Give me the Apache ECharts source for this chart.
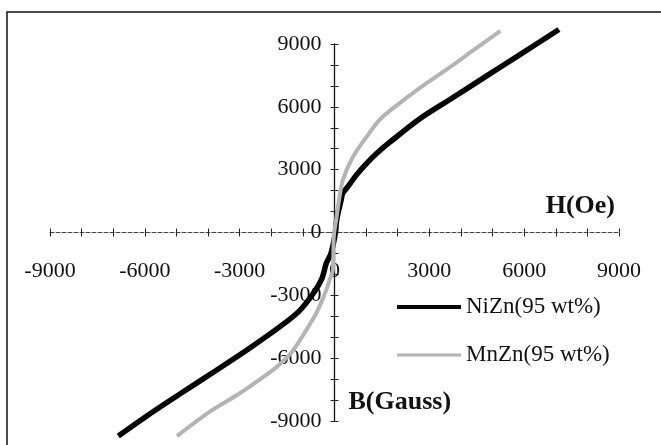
<!DOCTYPE html>
<html>
<head>
<meta charset="utf-8">
<script src="https://cdn.jsdelivr.net/npm/echarts@6/dist/echarts.min.js"></script>
<style>
html,body{margin:0;padding:0;background:#fff;}
#main{width:661px;height:445px;}
</style>
</head>
<body>
<div id="main"></div>
<script>
// B-H curves
var niznH = [-6840, -5880, -4820, -3760, -2700, -1640, -1110, -690, -400, -260, -110, 30, 70, 210, 264, 423, 690, 1010, 1330, 1750, 2700, 3650, 4900, 5780, 7100];
var niznB = [-9720, -8700, -7640, -6600, -5540, -4400, -3740, -2950, -2200, -1470, -990, 0, 610, 1560, 1880, 2190, 2740, 3290, 3770, 4310, 5430, 6350, 7560, 8410, 9690];
var mnznH = [-4980, -3975, -3020, -2170, -1750, -1335, -954, -572, -265, -160, -54, -22, 54, 159, 264, 582, 1113, 1431, 1908, 2607, 3711, 4397, 5246];
var mnznB = [-9720, -8590, -7700, -6810, -6310, -5680, -4810, -3840, -2770, -2280, -1800, -175, 614, 1715, 2503, 3604, 4771, 5385, 5999, 6802, 7960, 8706, 9622];
var axisTicks = [-9000, 9000, 3000];
var seriesNames = ['NiZn(95 wt%)', 'MnZn(95 wt%)'];

var myChart = echarts.init(document.getElementById('main'));

function pairs(xs, ys){
    var out = [];
    for (var i = 0; i < xs.length; i++) {
        out.push([xs[i], ys[i]]);
    }
    return out;
}

var serif = 'Liberation Serif';
var W = 661, H = 445;
var gLeft = 50, gRight = 42, gTop = 44, gBottom = 24;
// axes cross at 0, so shift them from the grid edge to the middle
var zeroFrac = (0 - axisTicks[0]) / (axisTicks[1] - axisTicks[0]);
var xOffset = -(H - gTop - gBottom) * zeroFrac;
var yOffset = -(W - gLeft - gRight) * zeroFrac;

var labelFont = {
    fontFamily: serif,
    fontSize: 22,
    color: '#111',
    formatter: function (v) { return String(v); }
};
var tickStyle = { color: '#222', width: 1 };

var option = {
    animation: false,
    backgroundColor: '#fff',
    grid: {
        left: gLeft,
        right: gRight,
        top: gTop,
        bottom: gBottom,
        containLabel: false,
        outerBoundsMode: 'none'
    },
    legend: {
        data: [
            { name: seriesNames[0], lineStyle: { width: 4, color: '#050505' } },
            { name: seriesNames[1], lineStyle: { width: 3, color: '#b4b4b4' } }
        ],
        orient: 'vertical',
        left: 395,
        top: 295,
        padding: 0,
        itemWidth: 64,
        itemHeight: 14,
        itemGap: 24,
        itemStyle: { opacity: 0 },
        textStyle: {
            fontFamily: serif,
            fontSize: 23,
            color: '#111',
            lineHeight: 24
        }
    },
    graphic: [
        {
            type: 'rect',
            shape: { x: 7, y: 12, width: 700, height: 500 },
            style: { fill: 'none', stroke: '#111', lineWidth: 1.5 },
            silent: true
        }
    ],
    xAxis: [
        {
            type: 'value',
            min: axisTicks[0],
            max: axisTicks[1],
            interval: axisTicks[2],
            position: 'bottom',
            offset: xOffset,
            name: 'H(Oe)',
            nameLocation: 'end',
            nameGap: -4,
            nameTextStyle: {
                fontFamily: serif,
                fontWeight: 'bold',
                fontSize: 26,
                color: '#111',
                align: 'right',
                verticalAlign: 'bottom',
                padding: [0, 0, 13, 0]
            },
            axisLine: {
                onZero: false,
                lineStyle: { color: '#444', width: 1, type: 'dashed' }
            },
            axisTick: { show: true, length: 4, lineStyle: tickStyle },
            minorTick: { show: true, splitNumber: 3, length: 4, lineStyle: tickStyle },
            splitLine: { show: false },
            axisLabel: Object.assign({ margin: 28 }, labelFont)
        },
        {
            // same scale again, only to draw the inner half of the cross ticks
            type: 'value',
            min: axisTicks[0],
            max: axisTicks[1],
            interval: axisTicks[2],
            position: 'bottom',
            offset: xOffset,
            axisLine: { show: false, onZero: false },
            axisTick: { show: true, inside: true, length: 4, lineStyle: tickStyle },
            minorTick: { show: true, splitNumber: 3, length: 4, lineStyle: tickStyle },
            splitLine: { show: false },
            axisLabel: { show: false }
        }
    ],
    yAxis: [
        {
            type: 'value',
            min: axisTicks[0],
            max: axisTicks[1],
            interval: axisTicks[2],
            position: 'left',
            offset: yOffset,
            name: 'B(Gauss)',
            nameLocation: 'start',
            nameGap: -19,
            nameTextStyle: {
                fontFamily: serif,
                fontWeight: 'bold',
                fontSize: 26,
                color: '#111',
                align: 'left',
                verticalAlign: 'middle',
                padding: [0, 0, 0, 14]
            },
            axisLine: {
                onZero: false,
                lineStyle: { color: '#111', width: 1.3 }
            },
            axisTick: { show: true, length: 4, lineStyle: tickStyle },
            minorTick: { show: true, splitNumber: 3, length: 4, lineStyle: tickStyle },
            splitLine: { show: false },
            axisLabel: Object.assign({ margin: 13 }, labelFont)
        },
        {
            type: 'value',
            min: axisTicks[0],
            max: axisTicks[1],
            interval: axisTicks[2],
            position: 'left',
            offset: yOffset,
            axisLine: { show: false, onZero: false },
            axisTick: { show: true, inside: true, length: 4, lineStyle: tickStyle },
            minorTick: { show: true, splitNumber: 3, length: 4, lineStyle: tickStyle },
            splitLine: { show: false },
            axisLabel: { show: false }
        }
    ],
    series: [
        {
            name: seriesNames[0],
            type: 'line',
            data: pairs(niznH, niznB),
            showSymbol: false,
            symbol: 'none',
            smooth: 0.3,
            clip: false,
            lineStyle: { color: '#050505', width: 5.5 },
            itemStyle: { color: '#050505' },
            z: 2
        },
        {
            name: seriesNames[1],
            type: 'line',
            data: pairs(mnznH, mnznB),
            showSymbol: false,
            symbol: 'none',
            smooth: 0.3,
            clip: false,
            lineStyle: { color: '#b4b4b4', width: 4 },
            itemStyle: { color: '#b4b4b4' },
            z: 3
        }
    ]
};

myChart.setOption(option);
</script>
</body>
</html>
